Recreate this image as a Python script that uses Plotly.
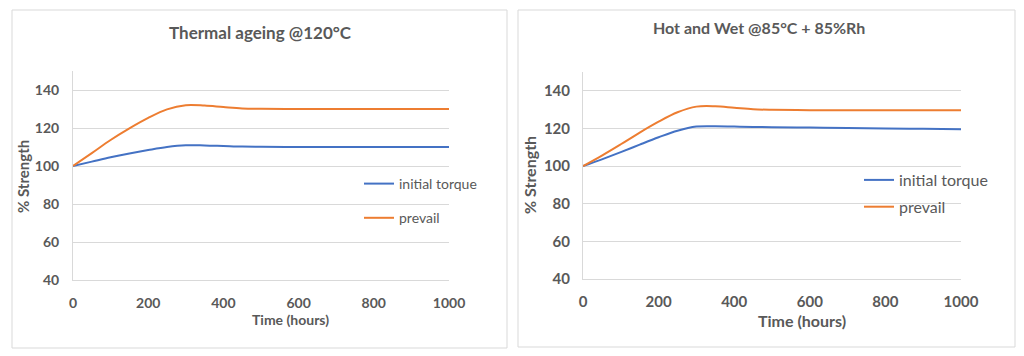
import plotly.graph_objects as go

hours = [0, 50, 100, 150, 200, 250, 300, 350, 400, 450, 500, 600, 700, 800, 900, 1000]

thermal_initial = [100, 102.3, 104.6, 106.6, 108.4, 110.0, 110.9, 110.8, 110.5, 110.2, 110.1, 110, 110, 110, 110, 110]
thermal_prevail = [100, 106.8, 113.7, 119.8, 125.3, 129.8, 132.0, 131.8, 131.0, 130.3, 130.1, 130, 130, 130, 130, 130]

wet_initial = [100, 103.6, 107.4, 111.4, 115.3, 118.8, 121.0, 121.2, 121.0, 120.8, 120.7, 120.5, 120.3, 120.0, 119.8, 119.6]
wet_prevail = [100, 105.6, 111.6, 117.8, 123.6, 128.6, 131.6, 131.8, 131.0, 130.2, 129.9, 129.7, 129.7, 129.7, 129.7, 129.7]

titles = ["Thermal ageing @120°C", "Hot and Wet @85°C + 85%Rh"]
series_names = ["initial torque", "prevail"]
x_ticks = [0, 200, 400, 600, 800, 1000]
y_ticks = [40, 60, 80, 100, 120, 140]

# page body has an 8px margin; compensate so the chart lands at window coords
OFF = 8
W, H = 1024 - OFF, 356 - OFF
BLUE = "#4472C4"
ORANGE = "#ED7D31"
GRAY = "#595959"
GRID = "#D9D9D9"
FONT = "Lato"

def px(x):
    return (x - OFF) / W

def py(y):
    return 1 - (y - OFF) / H

fig = go.Figure()

panels = [
    dict(data=(thermal_initial, thermal_prevail), legend="legend", xa="x", ya="y"),
    dict(data=(wet_initial, wet_prevail), legend="legend2", xa="x2", ya="y2"),
]

for i, p in enumerate(panels):
    for j, (vals, col) in enumerate(zip(p["data"], [BLUE, ORANGE])):
        fig.add_trace(go.Scatter(
            x=hours, y=vals, mode="lines", name=series_names[j],
            line=dict(color=col, width=2, shape="spline", smoothing=1.0),
            xaxis=p["xa"], yaxis=p["ya"], legend=p["legend"],
            legendgroup=f"g{i}{j}", showlegend=True, hoverinfo="skip"))

def axis_common(size):
    return dict(showgrid=True, gridcolor=GRID, gridwidth=1, zeroline=False,
                showline=True, linecolor=GRID, linewidth=1, ticks="",
                automargin=False,
                tickfont=dict(family=FONT, size=size, color=GRAY, weight="bold"))

layout = dict(
    width=W, height=H, margin=dict(l=0, r=0, t=0, b=0, autoexpand=False),
    paper_bgcolor="white", plot_bgcolor="white", showlegend=True,
    xaxis=dict(domain=[px(73), px(449)], range=[0, 1000], tickvals=x_ticks,
               anchor="y", ticklabelstandoff=10, **{**axis_common(14), "showgrid": False}),
    yaxis=dict(domain=[py(280), py(71)], range=[40, 150], tickvals=y_ticks,
               anchor="x", ticklabelstandoff=10, **axis_common(14)),
    xaxis2=dict(domain=[px(583), px(961)], range=[0, 1000], tickvals=x_ticks,
                anchor="y2", ticklabelstandoff=9, **{**axis_common(15), "showgrid": False}),
    yaxis2=dict(domain=[py(279), py(72)], range=[40, 150], tickvals=y_ticks,
                anchor="x2", ticklabelstandoff=9, **axis_common(15)),
    legend=dict(x=px(359), y=py(168), xanchor="left", yanchor="top",
                bgcolor="rgba(0,0,0,0)", tracegroupgap=13, itemwidth=30,
                font=dict(family=FONT, size=14, color=GRAY)),
    legend2=dict(x=px(859), y=py(163), xanchor="left", yanchor="top",
                 bgcolor="rgba(0,0,0,0)", tracegroupgap=3, itemwidth=30,
                 font=dict(family=FONT, size=16, color=GRAY)),
)
fig.update_layout(**layout)

# panel borders
for (x0, x1, y0, y1) in [(12, 507, 10, 348), (518, 1015, 10, 347)]:
    fig.add_shape(type="rect", xref="paper", yref="paper",
                  x0=px(x0), x1=px(x1), y0=py(y1), y1=py(y0),
                  line=dict(color=GRID, width=1), fillcolor="rgba(0,0,0,0)")

for text, (x, y), size in zip(titles, [(260, 32), (759, 27)], [17, 16]):
    fig.add_annotation(text=text, x=px(x), y=py(y), xref="paper", yref="paper",
                       showarrow=False, xanchor="center", yanchor="middle",
                       font=dict(family=FONT, size=size, color=GRAY, weight="bold"))

for (x, y), size in zip([(290, 319), (802, 320)], [14, 16]):
    fig.add_annotation(text="Time (hours)", x=px(x), y=py(y), xref="paper", yref="paper",
                       showarrow=False, xanchor="center", yanchor="middle",
                       font=dict(family=FONT, size=size, color=GRAY, weight="bold"))
for (x, y), size in zip([(23, 177), (530, 175)], [15, 16]):
    fig.add_annotation(text="% Strength", x=px(x), y=py(y), xref="paper", yref="paper",
                       showarrow=False, xanchor="center", yanchor="middle", textangle=-90,
                       font=dict(family=FONT, size=size, color=GRAY, weight="bold"))

fig.write_html("out.html")
